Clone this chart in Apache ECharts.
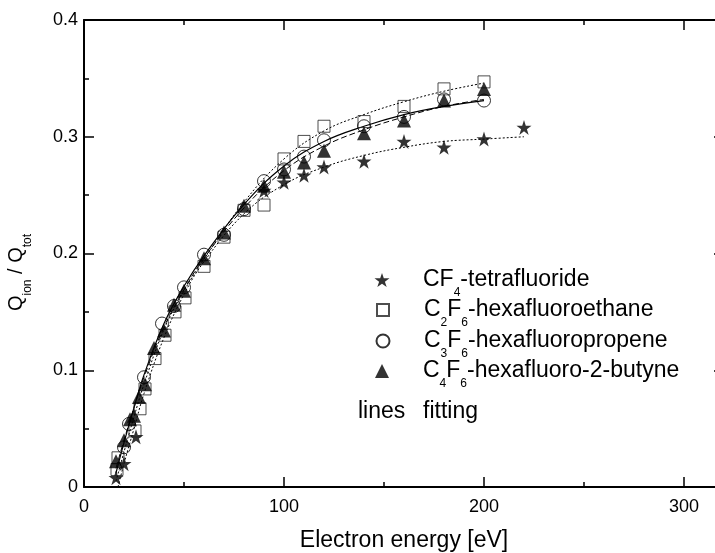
<!DOCTYPE html>
<html><head><meta charset="utf-8">
<script src="https://cdn.jsdelivr.net/npm/echarts@6/dist/echarts.min.js"></script>
<style>html,body{margin:0;padding:0;background:#fff}#c{width:715px;height:553px}</style>
</head><body><div id="c"></div>
<script>
// ---------- data ----------
const xTickLabels = [0, 100, 200, 300];
const yTickLabels = ['0', '0.1', '0.2', '0.3', '0.4'];

const seriesNames = ['CF4', 'C2F6', 'C3F6', 'C4F6'];

const cf4X = [16, 20, 26, 90, 100, 110, 120, 140, 160, 180, 200, 220];
const cf4Y = [0.008, 0.020, 0.043, 0.254, 0.261, 0.267, 0.274, 0.279, 0.296, 0.291, 0.298, 0.308];

const c2f6X = [16.5, 17, 25.5, 28, 30.5, 35.5, 40.5, 45.5, 50.5, 60, 70, 80, 90, 100, 110, 120, 140, 160, 180, 200];
const c2f6Y = [0.015, 0.025, 0.048, 0.067, 0.084, 0.110, 0.130, 0.150, 0.162, 0.189, 0.214, 0.237, 0.2415, 0.281, 0.296, 0.309, 0.313, 0.326, 0.341, 0.347];

const c3f6X = [20, 22.5, 30, 39, 45, 50, 60, 70, 80, 90, 100, 110, 120, 140, 160, 180, 200];
const c3f6Y = [0.034, 0.054, 0.094, 0.140, 0.155, 0.171, 0.199, 0.216, 0.238, 0.262, 0.272, 0.283, 0.297, 0.309, 0.317, 0.332, 0.331];

const c4f6X = [16, 20, 23, 25, 27.5, 30.5, 35, 40, 45, 50, 60, 70, 80, 90, 100, 110, 120, 140, 160, 180, 200];
const c4f6Y = [0.022, 0.040, 0.058, 0.061, 0.077, 0.088, 0.119, 0.134, 0.156, 0.168, 0.196, 0.218, 0.241, 0.258, 0.270, 0.278, 0.288, 0.303, 0.314, 0.331, 0.341];

// fitted curves
const fitCf4X = [17, 20, 25, 30, 40, 50, 60, 80, 100, 120, 140, 160, 180, 200, 220];
const fitCf4Y = [0.000, 0.020, 0.050, 0.080, 0.128, 0.165, 0.193, 0.234, 0.259, 0.274, 0.284, 0.291, 0.296, 0.298, 0.300];
const fitC2f6X = [16, 20, 25, 30, 40, 50, 60, 80, 100, 120, 140, 160, 180, 200];
const fitC2f6Y = [0.005, 0.030, 0.060, 0.088, 0.135, 0.168, 0.195, 0.244, 0.281, 0.305, 0.319, 0.330, 0.339, 0.346];
const fitC3f6X = [16, 20, 25, 30, 40, 50, 60, 80, 100, 120, 140, 160, 180, 200];
const fitC3f6Y = [0.012, 0.038, 0.068, 0.096, 0.140, 0.172, 0.198, 0.242, 0.275, 0.296, 0.309, 0.319, 0.326, 0.331];
const fitC4f6X = [16, 20, 25, 30, 40, 50, 60, 80, 100, 120, 140, 160, 180, 200];
const fitC4f6Y = [0.016, 0.040, 0.068, 0.094, 0.137, 0.169, 0.196, 0.239, 0.271, 0.292, 0.306, 0.317, 0.326, 0.332];

// ---------- build ----------
const FONT = 'Liberation Sans, Arial, sans-serif';
const pairs = (xs, ys) => xs.map((x, i) => [x, ys[i]]);
const STAR = 'path://M50,0 L61.8,35.5 L99,35.5 L69,57.5 L80.5,93 L50,71 L19.5,93 L31,57.5 L1,35.5 L38.2,35.5 Z';

const legendText = {
  CF4: '{m|CF}{s|4}{m|-tetrafluoride}',
  C2F6: '{m|C}{s|2}{m|F}{s|6}{m|-hexafluoroethane}',
  C3F6: '{m|C}{s|3}{m|F}{s|6}{m|-hexafluoropropene}',
  C4F6: '{m|C}{s|4}{m|F}{s|6}{m|-hexafluoro-2-butyne}'
};
const richSub = {
  m: { fontSize: 23, fontFamily: FONT, color: '#000' },
  s: { fontSize: 12, fontFamily: FONT, color: '#000', padding: [25, 0, 0, 0] }
};

const axisCommon = {
  type: 'value',
  axisLine: { show: true, onZero: false, lineStyle: { color: '#000', width: 2 } },
  axisTick: { show: true, inside: true, length: 10, lineStyle: { color: '#000', width: 1.5 } },
  splitLine: { show: false }
};
const minorAxis = {
  type: 'value',
  axisLine: { show: false, onZero: false },
  axisTick: { show: true, inside: true, length: 5, lineStyle: { color: '#000', width: 1.5 } },
  axisLabel: { show: false },
  splitLine: { show: false }
};

// legend layout: symbol centre x, text start x, row centres, icon sizes
const LEG_CX = 382, LEG_TX = 423;
const rowCenters = [287, 317, 348, 378];
const iconSizes = [15, 12, 13, 14];

const option = {
  animation: false,
  backgroundColor: '#fff',
  grid: { left: 84, top: 20, width: 640, height: 467, containLabel: false, outerBoundsMode: 'none' },
  xAxis: [
    Object.assign({}, axisCommon, {
      min: 0, max: 320, interval: 100, position: 'bottom', gridIndex: 0,
      axisLabel: { margin: 11, fontSize: 18, color: '#000', fontFamily: FONT,
        formatter: v => xTickLabels.includes(v) ? String(v) : '' },
      name: 'Electron energy [eV]', nameLocation: 'middle', nameGap: 42,
      nameTextStyle: { fontSize: 23, color: '#000', fontFamily: FONT }
    }),
    Object.assign({}, axisCommon, { min: 0, max: 320, interval: 100, position: 'top', axisLabel: { show: false } }),
    Object.assign({}, minorAxis, { min: 0, max: 320, interval: 50, position: 'bottom' }),
    Object.assign({}, minorAxis, { min: 0, max: 320, interval: 50, position: 'top' })
  ],
  yAxis: [
    Object.assign({}, axisCommon, {
      min: 0, max: 0.4, interval: 0.1, position: 'left',
      minorTick: { show: true, splitNumber: 2, length: 5, lineStyle: { color: '#000', width: 1.5 } },
      axisLabel: { margin: 6, fontSize: 18, color: '#000', fontFamily: FONT,
        formatter: v => yTickLabels[Math.round(v * 10)] || '' },
      name: '{m|Q}{s|ion}{m| / Q}{s|tot}', nameLocation: 'middle', nameRotate: 90, nameGap: 50,
      nameTextStyle: { padding: [0, 38, 0, 0],
        rich: { m: { fontSize: 20, fontFamily: FONT, color: '#000' },
                s: { fontSize: 12, fontFamily: FONT, color: '#000', padding: [24, 0, 0, 0] } } }
    }),
    Object.assign({}, axisCommon, {
      min: 0, max: 0.4, interval: 0.1, position: 'right',
      minorTick: { show: true, splitNumber: 2, length: 5, lineStyle: { color: '#000', width: 1.5 } },
      axisLabel: { show: false }
    })
  ],
  legend: seriesNames.map((n, i) => {
    const s = iconSizes[i];
    const left = LEG_CX - s / 2;
    return {
      data: [n], orient: 'vertical', left: left, top: rowCenters[i] - 18.5, padding: 0,
      itemWidth: s, itemHeight: s, selectedMode: false,
      formatter: name => legendText[name],
      textStyle: { padding: [0, 0, 0, LEG_TX - (left + s + 5)], rich: richSub }
    };
  }),
  graphic: [
    { type: 'text', x: 358, y: 412, style: { text: 'lines', fontSize: 23, fontFamily: FONT, fill: '#000', verticalAlign: 'middle' } },
    { type: 'text', x: 423, y: 412, style: { text: 'fitting', fontSize: 23, fontFamily: FONT, fill: '#000', verticalAlign: 'middle' } }
  ],
  series: [
    { type: 'line', data: pairs(fitCf4X, fitCf4Y), showSymbol: false, smooth: 0.4, z: 2,
      lineStyle: { color: '#000', width: 1, type: [2, 2] } },
    { type: 'line', data: pairs(fitC2f6X, fitC2f6Y), showSymbol: false, smooth: 0.4, z: 2,
      lineStyle: { color: '#000', width: 1, type: [2, 2] } },
    { type: 'line', data: pairs(fitC3f6X, fitC3f6Y), showSymbol: false, smooth: 0.4, z: 2,
      lineStyle: { color: '#000', width: 1.2, type: 'solid' } },
    { type: 'line', data: pairs(fitC4f6X, fitC4f6Y), showSymbol: false, smooth: 0.4, z: 2,
      lineStyle: { color: '#000', width: 1, type: [6, 3] } },
    { name: 'CF4', type: 'scatter', data: pairs(cf4X, cf4Y), symbol: STAR, symbolSize: 15, z: 3,
      itemStyle: { color: '#000' } },
    { name: 'C2F6', type: 'scatter', data: pairs(c2f6X, c2f6Y), symbol: 'rect', symbolSize: 12, z: 4,
      itemStyle: { color: 'rgba(255,255,255,0)', borderColor: '#222', borderWidth: 1 } },
    { name: 'C3F6', type: 'scatter', data: pairs(c3f6X, c3f6Y), symbol: 'circle', symbolSize: 13, z: 5,
      itemStyle: { color: 'rgba(255,255,255,0)', borderColor: '#000', borderWidth: 1 } },
    { name: 'C4F6', type: 'scatter', data: pairs(c4f6X, c4f6Y), symbol: 'triangle', symbolSize: 14, z: 6,
      itemStyle: { color: '#000' } }
  ]
};

const chart = echarts.init(document.getElementById('c'), null, { renderer: 'canvas' });
chart.setOption(option);
</script></body></html>
